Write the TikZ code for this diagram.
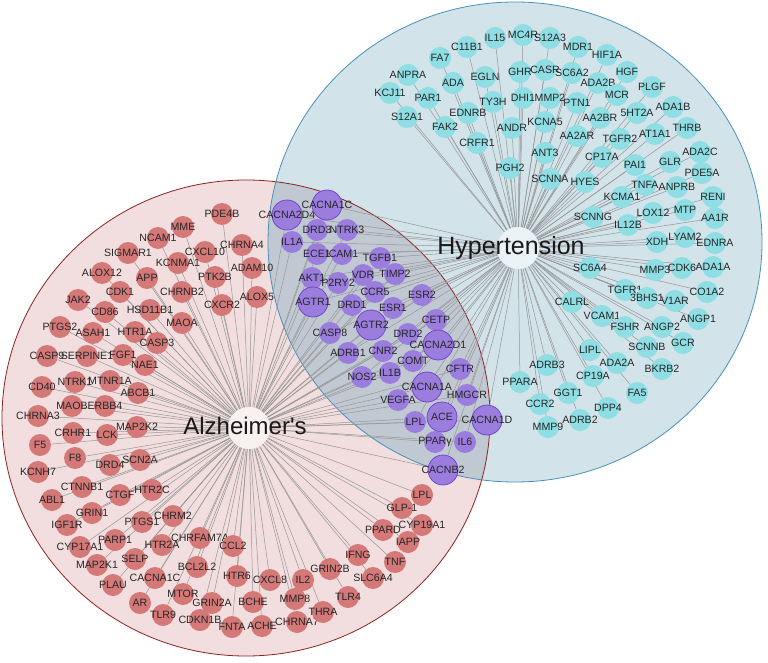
\documentclass[tikz,border=0pt]{standalone}
\usepackage{fontspec}
\setmainfont{Liberation Sans}
\usepackage{tikz}
\usetikzlibrary{backgrounds}
\usepackage{xcolor}
\definecolor{alzred}{RGB}{212,120,120}
\definecolor{alzpink}{RGB}{242,222,222}
\definecolor{alzrim}{RGB}{140,35,35}
\definecolor{hypcyan}{RGB}{142,222,228}
\definecolor{hyppale}{RGB}{210,227,234}
\definecolor{hyprim}{RGB}{72,145,188}
\definecolor{mixgray}{RGB}{192,201,210}
\definecolor{mixviolet}{RGB}{155,125,222}
\definecolor{mixrim}{RGB}{115,70,205}
\definecolor{linkgray}{RGB}{150,150,150}
\tikzstyle{gene} = [circle, minimum size=22pt, inner sep=0pt, label={[font=\fontsize{10.6}{12}\selectfont, text=black!85]center:#1}]
\tikzstyle{alzgene} = [gene=#1, fill=alzred]
\tikzstyle{hypgene} = [gene=#1, fill=hypcyan]
\tikzstyle{mixgene} = [gene=#1, fill=mixviolet]
\tikzstyle{mixbig} = [mixgene=#1, minimum size=30pt, draw=mixrim, thick]
\tikzstyle{hub} = [circle, minimum size=42pt, inner sep=0pt, fill=white, fill opacity=0.55]
\tikzstyle{link} = [draw=linkgray, line width=0.5pt]
\newcommand{\alzarea}{(246,418) ellipse[x radius=244pt, y radius=238pt]}
\newcommand{\hyparea}{(515,242) ellipse[x radius=247pt, y radius=240pt]}

\begin{document}
\begin{tikzpicture}[x=1pt,y=-1pt]
\useasboundingbox (0,0) rectangle (768,663);
% the two disease areas
\begin{scope}[on background layer]
\fill[alzpink] \alzarea;
\fill[hyppale] \hyparea;
\begin{scope}
\clip \alzarea;
\fill[mixgray] \hyparea;
\end{scope}
\draw[alzrim, line width=0.8pt] \alzarea;
\draw[hyprim, line width=0.8pt] \hyparea;
\end{scope}

% hubs
\node[hub] (alz) at (249,428) {};
\node[hub] (hyp) at (518,248) {};

% Alzheimer's only
\foreach \t/\x/\y [count=\i] in {MME/183/227, PDE4B/222/214, NCAM1/158/238, SIGMAR1/128/253,
  CXCL10/205/252, CHRNA4/242/245, KCNMA1/178/263, ADAM10/252/268, ALOX12/102/273, APP/147/278,
  PTK2B/215/277, CDK1/120/292, CHRNB2/182/292, ALOX5/257/297, CXCR2/222/305, JAK2/78/300,
  HSD11B1/150/310, CD86/105/312, MAOA/182/323, PTGS2/60/327, ASAH1/93/333, HTR1A/135/332,
  CASP3/157/343, CASP9/47/356, SERPINE1/87/356, FGF1/123/355, NAE1/145/365, NTRK1/75/382,
  MTNR1A/110/381, CD40/42/387, ABCB1/138/393, MAOB/72/406, ERBB4/105/406, CHRNA3/38/416,
  MAP2K2/137/427, CRHR1/73/433, LCK/107/435, F5/40/445, F8/75/458, SCN2A/140/460, DRD4/110/465,
  KCNH7/38/472, CTNNB1/82/487, HTR2C/152/490, CTGF/120/495, ABL1/52/500, GRIN1/92/513,
  PTGS1/142/522, CHRM2/173/516, IGF1R/67/525, PARP1/115/540, CHRFAM7A/200/538, CYP17A1/80/547,
  HTR2A/162/545, CCL2/233/546, SELP/135/559, MAP2K1/97/565, BCL2L2/197/567, HTR6/237/576,
  CACNA1C/155/578, PLAU/113/585, MTOR/183/594, AR/140/603, GRIN2A/212/603, TLR9/163/615,
  CDKN1B/200/620, FNTA/232/627, BCHE/253/602, ACHE/262/626, CXCL8/270/580, IL2/303/580,
  MMP8/295/599, CHRNA7/297/622, THRA/323/612, GRIN2B/330/569, TLR4/348/597, IFNG/358/555,
  SLC6A4/373/578, TNF/395/562, PPARD/383/530, IAPP/408/542, CYP19A1/422/525, GLP-1/402/508,
  LPL/422/495} {
  \node[alzgene=\t] (a\i) at (\x,\y) {};
  \begin{scope}[on background layer]
  \draw[link] (alz) -- (a\i);
  \end{scope}
}

% Hypertension only
\foreach \t/\x/\y [count=\i] in {IL15/495/38, MC4R/523/35, S12A3/550/38, MDR1/578/47, HIF1A/607/55,
  C11B1/467/47, FA7/440/58, HGF/627/72, PLGF/652/87, ANPRA/408/75, ADA/453/83, EGLN/485/77,
  GHR/520/72, CASR/545/70, SC6A2/572/73, ADA2B/598/83, MCR/617/95, KCJ11/390/93, PAR1/428/98,
  TY3H/493/102, DHI1/523/98, MMP2/550/98, PTN1/577/103, ADA1B/673/107, 5HT2A/637/113,
  AA2BR/600/118, KCNA5/545/122, ANDR/512/128, EDNRB/468/113, S12A1/407/117, FAK2/445/127,
  THRB/687/128, CRFR1/477/143, AA2AR/577/136, TGFR2/620/139, AT1A1/655/134, ANT3/545/153,
  CP17A/602/157, ADA2C/700/152, GLR/670/162, PAI1/635/165, PGH2/510/168, PDE5A/702/173,
  SCNNA/550/179, HYES/585/182, TNFA/645/185, ANPRB/677/187, KCMA1/622/197, RENI/713/197,
  MTP/685/210, LOX12/653/213, SCNNG/593/217, AA1R/715/218, IL12B/628/225, XDH/657/242,
  LYAM2/685/237, EDNRA/715/243, SC6A4/590/268, MMP3/655/270, CDK6/682/268, ADA1A/713/267,
  TGFR1/625/290, CO1A2/707/292, 3BHS1/647/298, V1AR/675/301, CALRL/572/302, VCAM1/602/316,
  ANGP1/698/319, FSHR/625/327, ANGP2/662/327, GCR/683/343, SCNNB/647/347, LIPL/590/350,
  ADA2A/617/363, ADRB3/547/365, BKRB2/662/369, CP19A/593/376, PPARA/520/382, GGT1/568/393,
  FA5/637/393, CCR2/540/404, DPP4/608/408, ADRB2/580/420, MMP9/548/427} {
  \node[hypgene=\t] (h\i) at (\x,\y) {};
  \begin{scope}[on background layer]
  \draw[link] (hyp) -- (h\i);
  \end{scope}
}

% shared genes
\foreach \t/\x/\y/\s [count=\i] in {CACNA2D4/287/215/mixbig, CACNA1C/327/205/mixbig,
  DRD3/317/230/mixgene, NTRK3/347/230/mixgene, IL1A/292/242/mixgene, ECE1/317/254/mixgene,
  ICAM1/342/254/mixgene, TGFB1/380/258/mixgene, AKT1/312/278/mixgene, VDR/363/275/mixgene,
  TIMP2/395/274/mixgene, P2RY2/338/283/mixgene, AGTR1/313/302/mixbig, CCR5/375/292/mixgene,
  ESR2/422/295/mixgene, DRD1/352/305/mixgene, ESR1/393/308/mixgene, AGTR2/371/325/mixbig,
  CETP/436/320/mixgene, CASP8/330/333/mixgene, DRD2/408/334/mixgene, CACNA2D1/438/345/mixbig,
  ADRB1/348/353/mixgene, CNR2/383/351/mixgene, COMT/413/361/mixgene, CFTR/460/369/mixgene,
  NOS2/362/377/mixgene, IL1B/390/373/mixgene, CACNA1A/427/387/mixbig, HMGCR/467/395/mixgene,
  VEGFA/398/400/mixgene, ACE/442/417/mixbig, LPL/415/422/mixgene, CACNA1D/487/420/mixbig,
  PPARγ/435/442/mixgene, IL6/465/442/mixgene, CACNB2/443/470/mixbig} {
  \node[\s=\t] (m\i) at (\x,\y) {};
  \begin{scope}[on background layer]
  \draw[link] (alz) -- (m\i);
  \draw[link] (hyp) -- (m\i);
  \end{scope}
}

% hub titles
\node[font=\fontsize{24}{28}\selectfont, text=black!90] (alztitle) at (245,426) {Alzheimer{\XeTeXglyph\XeTeXcharglyph"27\relax}s};
\node[font=\fontsize{25}{29}\selectfont, text=black!90] (hyptitle) at (511,248) {Hypertension};
\end{tikzpicture}
\end{document}
